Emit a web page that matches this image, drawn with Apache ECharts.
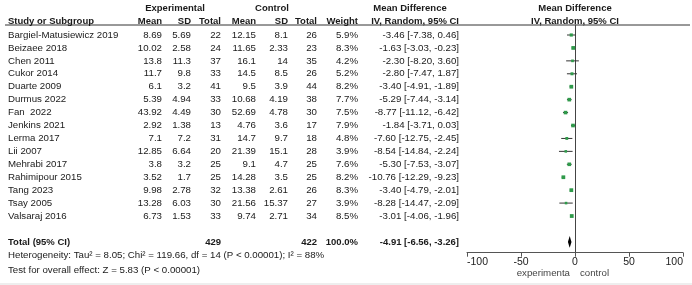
<!DOCTYPE html>
<html>
<head>
<meta charset="utf-8">
<script src="https://cdn.jsdelivr.net/npm/echarts@6/dist/echarts.min.js"></script>
<style>
  html, body { margin: 0; padding: 0; background: #fff; }
  #chart { width: 692px; height: 285px; }
</style>
</head>
<body>
<div id="chart"></div>
<script>
// data
const studies = ['Bargiel-Matusiewicz 2019', 'Beizaee 2018', 'Chen 2011', 'Cukor 2014', 'Duarte 2009',
  'Durmus 2022', 'Fan  2022', 'Jenkins 2021', 'Lerma 2017', 'Lii 2007', 'Mehrabi 2017',
  'Rahimipour 2015', 'Tang 2023', 'Tsay 2005', 'Valsaraj 2016']
const expMean = [8.69, 10.02, 13.8, 11.7, 6.1, 5.39, 43.92, 2.92, 7.1, 12.85, 3.8, 3.52, 9.98, 13.28, 6.73]
const expSD = [5.69, 2.58, 11.3, 9.8, 3.2, 4.94, 4.49, 1.38, 7.2, 6.64, 3.2, 1.7, 2.78, 6.03, 1.53]
const expN = [22, 24, 37, 33, 41, 33, 30, 13, 31, 20, 25, 25, 32, 30, 33]
const ctlMean = [12.15, 11.65, 16.1, 14.5, 9.5, 10.68, 52.69, 4.76, 14.7, 21.39, 9.1, 14.28, 13.38, 21.56, 9.74]
const ctlSD = [8.1, 2.33, 14, 8.5, 3.9, 4.19, 4.78, 3.6, 9.7, 15.1, 4.7, 3.5, 2.61, 15.37, 2.71]
const ctlN = [26, 23, 35, 26, 44, 38, 30, 17, 18, 28, 25, 25, 26, 27, 34]
const weight = [5.9, 8.3, 4.2, 5.2, 8.2, 7.7, 7.5, 7.9, 4.8, 3.9, 7.6, 8.2, 8.3, 3.9, 8.5]
const md = [-3.46, -1.63, -2.30, -2.80, -3.40, -5.29, -8.77, -1.84, -7.60, -8.54, -5.30, -10.76, -3.40, -8.28, -3.01]
const ciLow = [-7.38, -3.03, -8.20, -7.47, -4.91, -7.44, -11.12, -3.71, -12.75, -14.84, -7.53, -12.29, -4.79, -14.47, -4.06]
const ciHigh = [0.46, -0.23, 3.60, 1.87, -1.89, -3.14, -6.42, 0.03, -2.45, -2.24, -3.07, -9.23, -2.01, -2.09, -1.96]

const totalExpN = 429
const totalCtlN = 422
const totalMd = -4.91
const totalLow = -6.56
const totalHigh = -3.26

const xTicks = [-100, -50, 0, 50, 100]

// layout
const W = 692, H = 285
const ROW0 = 35, ROWH = 12.93
const TOTAL_ROW = 16
const plotTop = 25, plotBottom = 252.7
const plotLeft = 467, plotRight = 683
const toRow = (px) => (px - ROW0) / ROWH
const BODY = 9.7, HEAD = 9.5

const fmt2 = (v) => v.toFixed(2)
const ci = (m, lo, hi) => `${fmt2(m)} [${fmt2(lo)}, ${fmt2(hi)}]`

// table text items: [x, row, text, align, bold, size, color]
const texts = []
const add = (x, row, text, align, bold, size, color) =>
  texts.push([x, row, text, align || 'left', bold ? 1 : 0, size || BODY, color || '#1a1a1a'])

// headers
const hRow1 = toRow(8), hRow2 = toRow(21)
add(175, hRow1, 'Experimental', 'center', true, HEAD)
add(272, hRow1, 'Control', 'center', true, HEAD)
add(410, hRow1, 'Mean Difference', 'center', true, HEAD)
add(575, hRow1, 'Mean Difference', 'center', true, HEAD)
add(8, hRow2, 'Study or Subgroup', 'left', true, HEAD)
add(162, hRow2, 'Mean', 'right', true, HEAD)
add(191, hRow2, 'SD', 'right', true, HEAD)
add(221, hRow2, 'Total', 'right', true, HEAD)
add(256, hRow2, 'Mean', 'right', true, HEAD)
add(288, hRow2, 'SD', 'right', true, HEAD)
add(317, hRow2, 'Total', 'right', true, HEAD)
add(358, hRow2, 'Weight', 'right', true, HEAD)
add(459, hRow2, 'IV, Random, 95% CI', 'right', true, HEAD)
add(575, hRow2, 'IV, Random, 95% CI', 'center', true, HEAD)

studies.forEach((s, i) => {
  add(8, i, s, 'left')
  add(162, i, String(expMean[i]), 'right')
  add(191, i, String(expSD[i]), 'right')
  add(221, i, String(expN[i]), 'right')
  add(256, i, String(ctlMean[i]), 'right')
  add(288, i, String(ctlSD[i]), 'right')
  add(317, i, String(ctlN[i]), 'right')
  add(358, i, weight[i].toFixed(1) + '%', 'right')
  add(459, i, ci(md[i], ciLow[i], ciHigh[i]), 'right')
})

add(8, TOTAL_ROW, 'Total (95% CI)', 'left', true, HEAD)
add(221, TOTAL_ROW, String(totalExpN), 'right', true, HEAD)
add(317, TOTAL_ROW, String(totalCtlN), 'right', true, HEAD)
add(358, TOTAL_ROW, '100.0%', 'right', true, HEAD)
add(459, TOTAL_ROW, ci(totalMd, totalLow, totalHigh), 'right', true, HEAD)
add(8, toRow(255), 'Heterogeneity: Tau\u00b2 = 8.05; Chi\u00b2 = 119.66, df = 14 (P < 0.00001); I\u00b2 = 88%', 'left')
add(8, toRow(270), 'Test for overall effect: Z = 5.83 (P < 0.00001)', 'left')
add(570, toRow(273), 'experimenta', 'right', false, BODY, '#444')
add(580, toRow(273), 'control', 'left', false, BODY, '#444')

const forestData = studies.map((s, i) => [md[i], i, ciLow[i], ciHigh[i], weight[i]])

const chart = echarts.init(document.getElementById('chart'), null, { renderer: 'canvas' })

chart.setOption({
  animation: false,
  backgroundColor: '#fff',
  grid: [
    { left: 0, top: 0, width: W, height: H },
    { left: plotLeft, top: plotTop, width: plotRight - plotLeft, height: plotBottom - plotTop }
  ],
  xAxis: [
    { gridIndex: 0, type: 'value', min: 0, max: W, show: false },
    {
      gridIndex: 1, type: 'value', min: -100, max: 100, interval: 50,
      splitLine: { show: false },
      axisLine: { show: true, onZero: false, lineStyle: { color: '#555', width: 1 } },
      axisTick: { show: true, length: 4, lineStyle: { color: '#555' } },
      axisLabel: {
        color: '#222', fontSize: 10.5, fontFamily: 'Arial, Liberation Sans', margin: 4,
        alignMinLabel: 'left', alignMaxLabel: 'right',
        customValues: xTicks
      }
    }
  ],
  yAxis: [
    { gridIndex: 0, type: 'value', inverse: true, min: toRow(0), max: toRow(H), show: false },
    {
      gridIndex: 1, type: 'value', inverse: true, min: toRow(plotTop), max: toRow(plotBottom),
      splitLine: { show: false },
      axisLabel: { show: false },
      axisTick: { show: false },
      axisLine: { show: true, onZero: true, lineStyle: { color: '#444', width: 1 } }
    }
  ],
  graphic: [
    { type: 'line', shape: { x1: 5, y1: 25, x2: 690, y2: 25 }, style: { stroke: '#333', lineWidth: 1 } },
    { type: 'line', shape: { x1: 0, y1: 284, x2: W, y2: 284 }, style: { stroke: '#ddd', lineWidth: 1 } }
  ],
  series: [
    {
      type: 'custom',
      xAxisIndex: 0, yAxisIndex: 0,
      data: texts,
      silent: true,
      renderItem: (params, api) => {
        const p = api.coord([api.value(0), api.value(1)])
        const t = texts[params.dataIndex]
        return {
          type: 'text',
          x: p[0], y: p[1],
          style: {
            text: t[2],
            align: t[3],
            verticalAlign: 'middle',
            fontFamily: 'Arial, Liberation Sans',
            fontSize: t[5],
            fontWeight: t[4] ? 'bold' : 'normal',
            fill: t[6]
          }
        }
      }
    },
    {
      // CI whiskers and weighted squares
      type: 'custom',
      xAxisIndex: 1, yAxisIndex: 1,
      data: forestData,
      silent: true,
      renderItem: (params, api) => {
        const row = api.value(1)
        const c = api.coord([api.value(0), row])
        const lo = api.coord([api.value(2), row])
        const hi = api.coord([api.value(3), row])
        const s = Math.sqrt(api.value(4)) * 1.3
        return {
          type: 'group',
          children: [
            { type: 'line', shape: { x1: lo[0], y1: c[1], x2: hi[0], y2: c[1] }, style: { stroke: '#333', lineWidth: 1 } },
            { type: 'rect', shape: { x: c[0] - s / 2, y: c[1] - s / 2, width: s, height: s }, style: { fill: '#2f9a4a' } }
          ]
        }
      }
    },
    {
      // pooled estimate diamond
      type: 'custom',
      xAxisIndex: 1, yAxisIndex: 1,
      data: [[totalMd, TOTAL_ROW, totalLow, totalHigh]],
      silent: true,
      renderItem: (params, api) => {
        const row = api.value(1)
        const l = api.coord([api.value(2), row])
        const r = api.coord([api.value(3), row])
        const t = api.coord([api.value(0), row - 0.45])
        const b = api.coord([api.value(0), row + 0.45])
        return {
          type: 'polygon',
          shape: { points: [l, t, r, b] },
          style: { fill: '#000' }
        }
      }
    }
  ]
})
</script>
</body>
</html>
